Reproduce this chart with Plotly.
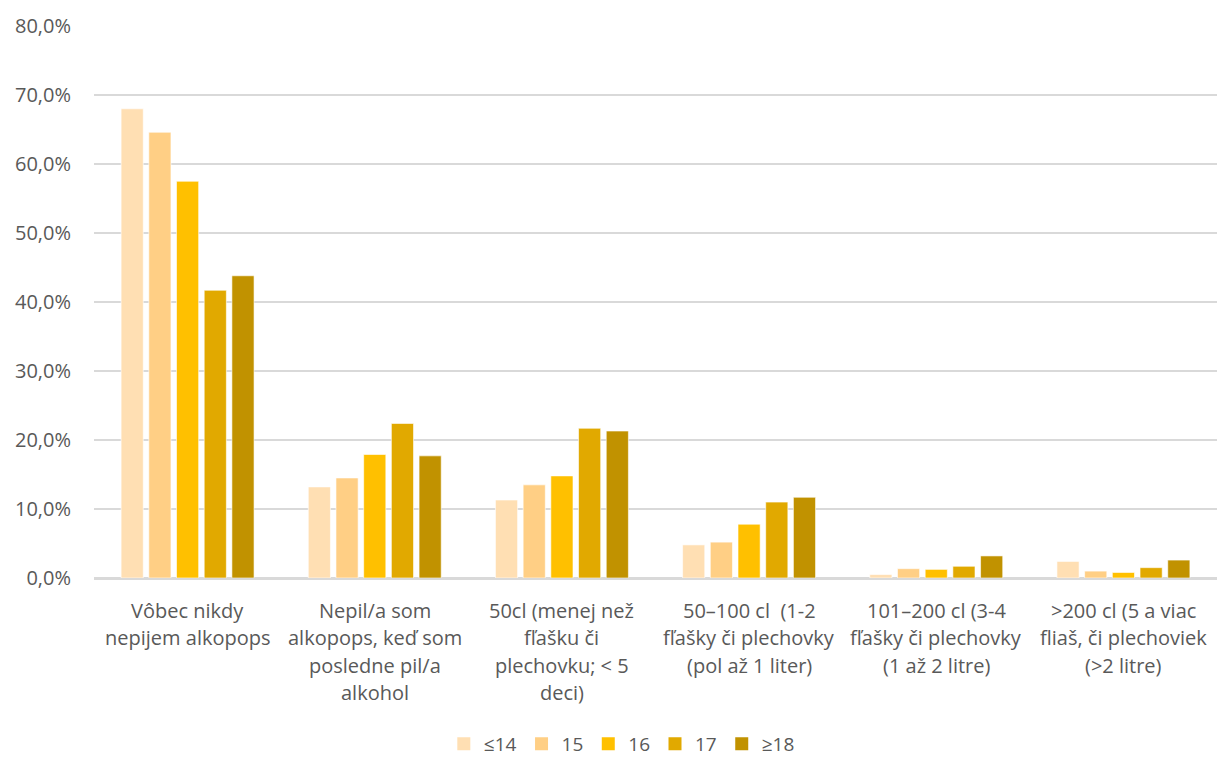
import plotly.graph_objects as go

category_lines = [
    ["Vôbec nikdy", "nepijem alkopops"],
    ["Nepil/a som", "alkopops, keď som", "posledne pil/a", "alkohol"],
    ["50cl (menej než", "fľašku či", "plechovku; < 5", "deci)"],
    ["50–100 cl  (1-2", "fľašky či plechovky", "(pol až 1 liter)"],
    ["101–200 cl (3-4", "fľašky či plechovky", "(1 až 2 litre)"],
    [">200 cl (5 a viac", "fliaš, či plechoviek", "(>2 litre)"],
]
categories = [" ".join(c) for c in category_lines]
series_names = ["≤14", "15", "16", "17", "≥18"]
v_le14 = [68.0, 13.2, 11.3, 4.8, 0.5, 2.4]
v_15 = [64.6, 14.5, 13.5, 5.2, 1.35, 1.0]
v_16 = [57.5, 17.9, 14.8, 7.8, 1.25, 0.8]
v_17 = [41.7, 22.4, 21.7, 11.0, 1.7, 1.5]
v_ge18 = [43.8, 17.7, 21.3, 11.7, 3.2, 2.6]
series_values = [v_le14, v_15, v_16, v_17, v_ge18]
colors = ["#FFDFB3", "#FFCF85", "#FFC000", "#E1A900", "#C19200"]

font_fam = "'Open Sans', Lato, sans-serif"
FS = 20
TXT = "#595959"

fig = go.Figure()
for name, vals, col in zip(series_names, series_values, colors):
    fig.add_trace(go.Bar(
        x=categories, y=vals, name=name, showlegend=False, legendgroup=name,
        marker=dict(color=col, line=dict(color="rgba(255,255,255,0.6)", width=1)),
    ))
for name, col in zip(series_names, colors):
    fig.add_trace(go.Scatter(
        x=[None], y=[None], mode="markers", name=name, legendgroup=name,
        marker=dict(symbol="square", size=13, color=col),
    ))

# multi-line category labels as text below the axis
H = 552.0
for cat, lines in zip(categories, category_lines):
    for i, line in enumerate(lines):
        fig.add_annotation(
            x=cat, xref="x", yref="paper", y=-(32 + 27.5 * i) / H,
            text=line, showarrow=False, xanchor="center", yanchor="middle",
            font=dict(family=font_fam, size=FS, color=TXT),
        )

fig.update_layout(
    width=1217, height=758,
    paper_bgcolor="white", plot_bgcolor="white",
    margin=dict(l=94, r=0, t=26, b=180, autoexpand=False),
    barmode="group", bargap=0.26, bargroupgap=0.2,
    separators=",.",
    font=dict(family=font_fam, size=FS, color=TXT),
    showlegend=True,
    legend=dict(orientation="h", x=0.47, xanchor="center", y=-166 / H, yanchor="middle",
                font=dict(size=19, color=TXT), traceorder="normal",
                itemwidth=30, tracegroupgap=0, itemclick=False, itemdoubleclick=False),
    yaxis=dict(range=[0, 80], dtick=10, tickformat=".1f", ticksuffix="%",
               showgrid=True, gridcolor="#D9D9D9", gridwidth=1.5,
               zeroline=True, zerolinecolor="#D9D9D9", zerolinewidth=1.5,
               showline=False, ticks="", ticklabelstandoff=22, automargin=False,
               tickfont=dict(size=FS, color=TXT)),
    xaxis=dict(showline=True, linecolor="#D9D9D9", linewidth=1.5, ticks="",
               showticklabels=False, automargin=False),
)
fig.write_html("out.html", config={"displayModeBar": False},
               post_script="document.body.style.margin='0';document.body.style.overflow='hidden';")
